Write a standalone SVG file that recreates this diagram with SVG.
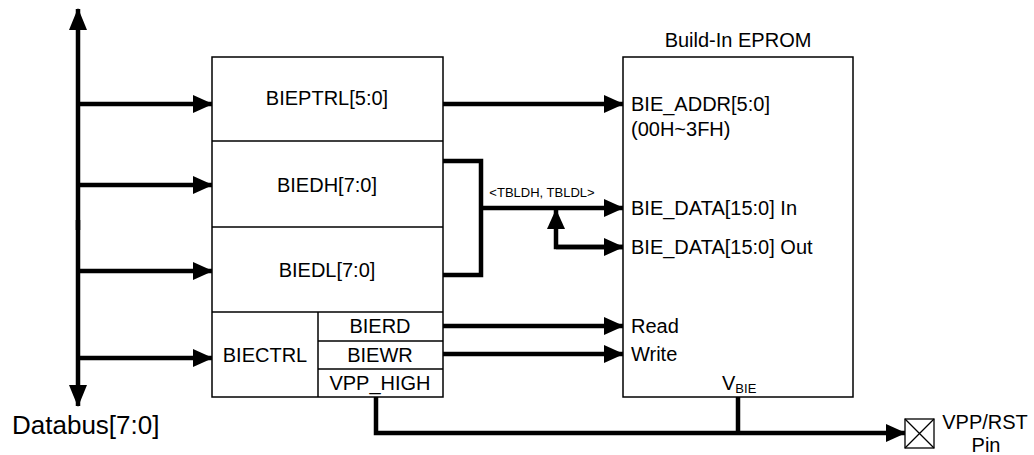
<svg xmlns="http://www.w3.org/2000/svg" width="1034" height="455" viewBox="0 0 1034 455">
<defs>
<style>
.box{fill:#fff;stroke:#000;stroke-width:1.5}
.bus{fill:none;stroke:#000;stroke-width:4.5}
.t{font-family:"Liberation Sans",Arial,sans-serif;font-size:20px;fill:#000}
.c{text-anchor:middle}
</style>
<marker id="ah" markerUnits="userSpaceOnUse" markerWidth="20" markerHeight="18" viewBox="0 0 20 18" refX="19" refY="9" orient="auto">
<path d="M0,0 L20,9 L0,18 z" fill="#000"/>
</marker>
<marker id="ahv" markerUnits="userSpaceOnUse" markerWidth="22" markerHeight="18" viewBox="0 0 22 18" refX="21" refY="9" orient="auto">
<path d="M0,0 L22,9 L0,18 z" fill="#000"/>
</marker>
</defs>
<g id="connectors">
<line class="bus" x1="78" y1="230" x2="78" y2="9" marker-end="url(#ahv)"/>
<line class="bus" x1="78" y1="220" x2="78" y2="406" marker-end="url(#ahv)"/>
<line class="bus" x1="78" y1="104" x2="212" y2="104" marker-end="url(#ah)"/>
<line class="bus" x1="78" y1="185" x2="212" y2="185" marker-end="url(#ah)"/>
<line class="bus" x1="78" y1="271" x2="212" y2="271" marker-end="url(#ah)"/>
<line class="bus" x1="78" y1="358" x2="212" y2="358" marker-end="url(#ah)"/>
<line class="bus" x1="443" y1="104" x2="623" y2="104" marker-end="url(#ah)"/>
<polyline class="bus" points="443,161 481,161 481,275 443,275"/>
<line class="bus" x1="481" y1="208" x2="623" y2="208" marker-end="url(#ah)"/>
<polyline class="bus" points="623,247 556,247 556,210" marker-end="url(#ah)"/>
<line class="bus" x1="556" y1="247" x2="623" y2="247" marker-end="url(#ah)"/>
<line class="bus" x1="443" y1="326" x2="623" y2="326" marker-end="url(#ah)"/>
<line class="bus" x1="443" y1="354" x2="623" y2="354" marker-end="url(#ah)"/>
<polyline class="bus" points="376,397 376,433 905,433" marker-end="url(#ah)"/>
<line class="bus" x1="738" y1="397" x2="738" y2="433"/>
<text class="t c" x="542" y="197" style="font-size:13px">&lt;TBLDH, TBLDL&gt;</text>
</g>
<g id="regs">
<rect class="box" x="212" y="57" width="231" height="340"/>
<line class="box" x1="212" y1="141" x2="443" y2="141"/>
<line class="box" x1="212" y1="227" x2="443" y2="227"/>
<line class="box" x1="212" y1="312" x2="443" y2="312"/>
<line class="box" x1="318" y1="312" x2="318" y2="397"/>
<line class="box" x1="318" y1="341" x2="443" y2="341"/>
<line class="box" x1="318" y1="369" x2="443" y2="369"/>
</g>
<g id="bieptrl"><text class="t c" x="327" y="105">BIEPTRL[5:0]</text></g>
<g id="biedh"><text class="t c" x="327" y="192">BIEDH[7:0]</text></g>
<g id="biedl"><text class="t c" x="327" y="277">BIEDL[7:0]</text></g>
<g id="biectrl"><text class="t c" x="265" y="362">BIECTRL</text></g>
<g id="bierd"><text class="t c" x="380" y="333">BIERD</text></g>
<g id="biewr"><text class="t c" x="380" y="362">BIEWR</text></g>
<g id="vpphigh"><text class="t c" x="380" y="390">VPP_HIGH</text></g>
<g id="eprom">
<rect class="box" x="623" y="57" width="230" height="340"/>
<text class="t c" x="738" y="47">Build-In EPROM</text>
<text class="t" x="631" y="111">BIE_ADDR[5:0]</text>
<text class="t" x="631" y="136">(00H~3FH)</text>
<text class="t" x="631" y="215">BIE_DATA[15:0] In</text>
<text class="t" x="631" y="254">BIE_DATA[15:0] Out</text>
<text class="t" x="631" y="333">Read</text>
<text class="t" x="631" y="361">Write</text>
<text class="t" x="722" y="390">V<tspan style="font-size:13px" dy="3">BIE</tspan></text>
</g>
<g id="databus"><text class="t" x="12" y="434" style="font-size:26px">Databus[7:0]</text></g>
<g id="pin">
<rect class="box" x="905" y="419" width="29" height="29" style="stroke-width:1.3"/>
<path d="M905,419 L934,448 M934,419 L905,448" stroke="#000" stroke-width="1.3"/>
<text class="t c" x="985" y="429">VPP/RST</text>
<text class="t c" x="986" y="452">Pin</text>
</g>
</svg>
